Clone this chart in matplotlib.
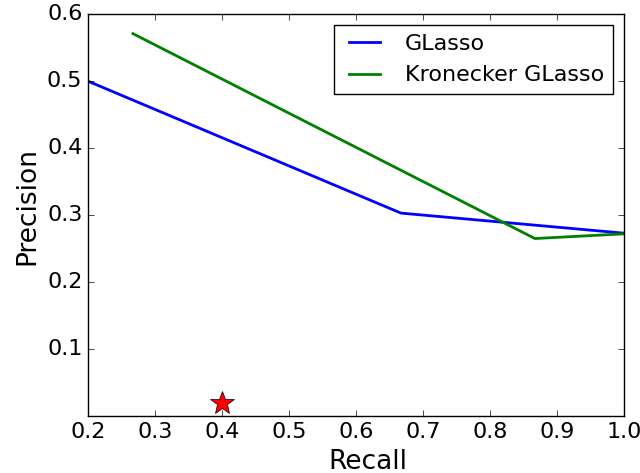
import matplotlib
matplotlib.use("Agg")
import matplotlib.pyplot as plt

plt.style.use("classic")

recall_glasso = [0.2, 0.667, 1.0]
prec_glasso = [0.5, 0.303, 0.273]

recall_kron = [0.267, 0.867, 1.0]
prec_kron = [0.571, 0.265, 0.272]

star_recall = [0.4]
star_prec = [0.02]

fig = plt.figure(figsize=(6.4, 4.73), dpi=100, facecolor="white")
ax = fig.add_subplot(111)
fig.subplots_adjust(left=0.1375, right=0.975, top=0.970, bottom=0.1205)

ax.plot(recall_glasso, prec_glasso, "-b", lw=2, label="GLasso")
ax.plot(recall_kron, prec_kron, "-g", lw=2, label="Kronecker GLasso")
ax.plot(star_recall, star_prec, "*", color="red", markersize=18, markeredgecolor="black")

ax.set_xlim(0.2, 1.0)
ax.set_ylim(0.0, 0.6)
ax.set_yticks([0.1, 0.2, 0.3, 0.4, 0.5, 0.6])
ax.tick_params(labelsize=16)
ax.set_xlabel("Recall", size=19, x=0.522)
ax.set_ylabel("Precision", size=19, y=0.522)
ax.legend(loc="upper right", fontsize=16)

fig.savefig("out.png", dpi=100, facecolor="white")
